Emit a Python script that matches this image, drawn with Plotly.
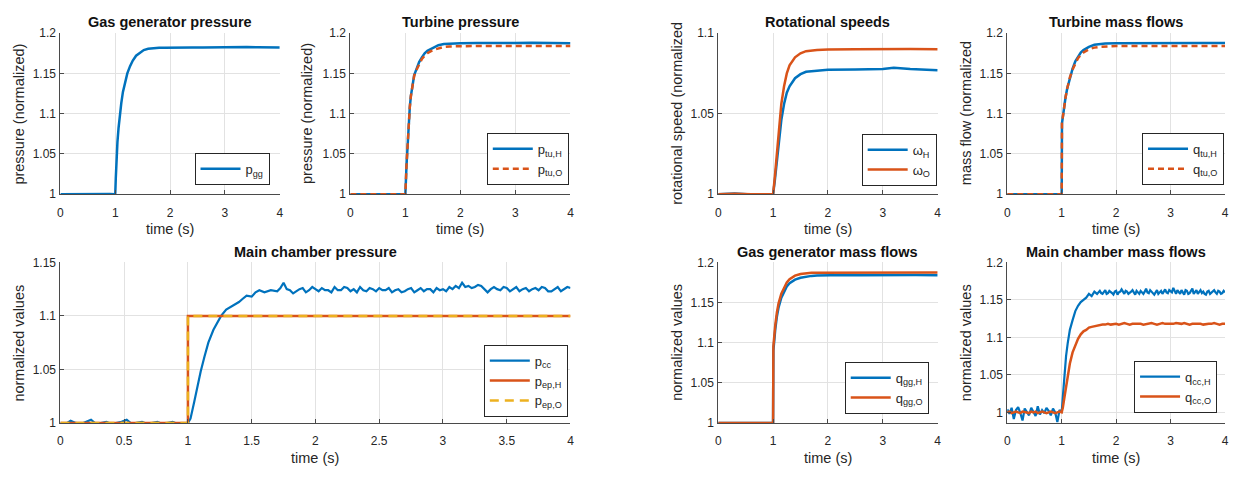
import plotly.graph_objects as go

# ---------------- data ----------------
# Gas generator pressure
t_pgg = [0, 0.3, 0.6, 0.9, 0.99, 1.0, 1.01, 1.02, 1.04, 1.06, 1.08, 1.11, 1.14, 1.18, 1.22, 1.27,
         1.32, 1.38, 1.45, 1.52, 1.6, 1.7, 1.8, 1.9, 2.0, 2.2, 2.4, 2.6, 2.8, 3.0, 3.2, 3.3, 3.4,
         3.6, 3.8, 4.0]
p_gg = [1.0, 1.0003, 0.9999, 1.0001, 0.9998, 1.0, 1.02, 1.04, 1.065, 1.082, 1.098, 1.113, 1.127,
        1.140, 1.150, 1.159, 1.166, 1.172, 1.176, 1.179, 1.1805, 1.1815, 1.1818, 1.182, 1.1822,
        1.1823, 1.1821, 1.1822, 1.1824, 1.1826, 1.1829, 1.1832, 1.1828, 1.1824, 1.1822, 1.1821]

# Turbine pressure
t_ptu = [0, 0.3, 0.6, 0.9, 0.99, 1.0, 1.02, 1.04, 1.06, 1.08, 1.1, 1.13, 1.16, 1.2, 1.25, 1.3,
         1.35, 1.4, 1.5, 1.6, 1.7, 1.8, 2.0, 2.3, 2.6, 3.0, 3.3, 3.6, 4.0]
p_tuH = [1.0, 1.0002, 0.9999, 1.0001, 1.0, 1.0, 1.035, 1.065, 1.09, 1.108, 1.122, 1.137, 1.148,
         1.155, 1.164, 1.170, 1.175, 1.178, 1.182, 1.185, 1.1866, 1.1871, 1.1874, 1.1876, 1.1875,
         1.1878, 1.1882, 1.1879, 1.1874]
p_tuO = [1.0, 1.0, 1.0, 1.0, 1.0, 1.0, 1.035, 1.065, 1.09, 1.108, 1.122, 1.137, 1.147, 1.154,
         1.162, 1.168, 1.172, 1.175, 1.179, 1.181, 1.1828, 1.1835, 1.184, 1.184, 1.184, 1.184,
         1.1842, 1.184, 1.184]

# Rotational speeds
t_om = [0, 0.3, 0.6, 0.9, 0.99, 1.0, 1.03, 1.06, 1.1, 1.15, 1.2, 1.25, 1.3, 1.4, 1.5, 1.6, 1.8,
        2.0, 2.5, 3.0, 3.2, 3.5, 4.0]
om_H = [1.0, 1.0004, 0.9998, 1.0002, 1.0, 1.0, 1.008, 1.018, 1.032, 1.046, 1.056, 1.063, 1.067,
        1.072, 1.0745, 1.076, 1.0767, 1.0772, 1.0775, 1.0778, 1.0785, 1.0777, 1.077]
om_O = [1.0, 1.0003, 0.9999, 1.0002, 1.0, 1.0, 1.01, 1.022, 1.04, 1.056, 1.067, 1.075, 1.08,
        1.085, 1.0875, 1.0888, 1.0895, 1.0898, 1.09, 1.0902, 1.0905, 1.0902, 1.09]

# Turbine mass flows
t_qtu = [0, 0.3, 0.6, 0.9, 0.999, 1.0, 1.005, 1.02, 1.04, 1.07, 1.1, 1.15, 1.2, 1.25, 1.3, 1.35,
         1.4, 1.5, 1.6, 1.7, 1.8, 2.0, 2.3, 2.6, 3.0, 3.3, 3.6, 4.0]
q_tuH = [1.0, 1.0002, 0.9999, 1.0001, 1.0, 1.0, 1.088, 1.097, 1.107, 1.12, 1.131, 1.145, 1.156,
         1.165, 1.171, 1.176, 1.179, 1.183, 1.1855, 1.1866, 1.187, 1.1874, 1.1876, 1.1877,
         1.1879, 1.1882, 1.1879, 1.1876]
q_tuO = [1.0, 1.0, 1.0, 1.0, 1.0, 1.0, 1.088, 1.097, 1.107, 1.12, 1.131, 1.145, 1.155, 1.163,
         1.169, 1.173, 1.176, 1.18, 1.182, 1.183, 1.1836, 1.184, 1.184, 1.184, 1.184, 1.1842,
         1.184, 1.184]

# Main chamber pressure
t_pcc = [0.00, 0.04, 0.08, 0.12, 0.16, 0.20, 0.24, 0.28, 0.32, 0.36, 0.40, 0.44, 0.48, 0.52,
         0.56, 0.60, 0.64, 0.68, 0.72, 0.76, 0.80, 0.84, 0.88, 0.92, 0.96,
         1.0, 1.02, 1.05, 1.08, 1.1, 1.13, 1.16, 1.2, 1.23, 1.26, 1.3, 1.33, 1.36, 1.4, 1.43,
         1.46, 1.5, 1.53, 1.56, 1.6, 1.65,
         1.700, 1.725, 1.750, 1.775, 1.800, 1.825, 1.850, 1.875, 1.900, 1.925,
         1.950, 1.975, 2.000, 2.025, 2.050, 2.075, 2.100, 2.125, 2.150, 2.175,
         2.200, 2.225, 2.250, 2.275, 2.300, 2.325, 2.350, 2.375, 2.400, 2.425,
         2.450, 2.475, 2.500, 2.525, 2.550, 2.575, 2.600, 2.625, 2.650, 2.675,
         2.700, 2.725, 2.750, 2.775, 2.800, 2.825, 2.850, 2.875, 2.900, 2.925,
         2.950, 2.975, 3.000, 3.025, 3.050, 3.075, 3.100, 3.125, 3.150, 3.175,
         3.200, 3.225, 3.250, 3.275, 3.300, 3.325, 3.350, 3.375, 3.400, 3.425,
         3.450, 3.475, 3.500, 3.525, 3.550, 3.575, 3.600, 3.625, 3.650, 3.675,
         3.700, 3.725, 3.750, 3.775, 3.800, 3.825, 3.850, 3.875, 3.900, 3.925,
         3.950, 3.975, 4.000]
p_cc = [1.000, 0.999, 1.002, 1.000, 0.999, 1.001, 1.003, 0.999, 1.000, 1.001, 0.999, 1.000,
        1.001, 1.003, 0.999, 1.000, 1.001, 0.999, 1.000, 1.001, 0.999, 1.000, 1.001, 0.999, 0.999,
        1.000, 1.004, 1.020, 1.038, 1.048, 1.062, 1.075, 1.087, 1.094, 1.100, 1.106, 1.108,
        1.110, 1.113, 1.116, 1.119, 1.118, 1.122, 1.124, 1.122, 1.124,
        1.123, 1.126, 1.131, 1.125, 1.124, 1.121, 1.123, 1.125, 1.126, 1.122,
        1.124, 1.127, 1.125, 1.123, 1.126, 1.124, 1.124, 1.122, 1.127, 1.124,
        1.124, 1.127, 1.126, 1.123, 1.125, 1.122, 1.127, 1.124, 1.123, 1.126,
        1.125, 1.123, 1.126, 1.124, 1.124, 1.126, 1.122, 1.124, 1.125, 1.122,
        1.123, 1.125, 1.126, 1.122, 1.124, 1.126, 1.123, 1.125, 1.125, 1.122,
        1.126, 1.124, 1.125, 1.123, 1.127, 1.125, 1.128, 1.126, 1.131, 1.127,
        1.128, 1.126, 1.127, 1.129, 1.128, 1.125, 1.122, 1.125, 1.127, 1.125,
        1.124, 1.127, 1.126, 1.123, 1.125, 1.127, 1.123, 1.125, 1.126, 1.123,
        1.125, 1.126, 1.124, 1.127, 1.126, 1.123, 1.123, 1.125, 1.127, 1.123,
        1.125, 1.127, 1.126]
t_pep = [0, 1.0, 1.0, 4.0]
p_epH = [1.0, 1.0, 1.1, 1.1]
p_epO = [1.0, 1.0, 1.1, 1.1]

# Gas generator mass flows
t_qgg = [0, 0.3, 0.6, 0.9, 0.999, 1.0, 1.005, 1.02, 1.04, 1.07, 1.1, 1.15, 1.2, 1.25, 1.3, 1.4,
         1.5, 1.6, 1.7, 1.8, 2.0, 2.3, 2.6, 3.0, 3.3, 3.6, 4.0]
q_ggH = [1.0, 1.0, 1.0, 1.0, 1.0, 1.0, 1.09, 1.103, 1.117, 1.133, 1.144, 1.156, 1.164, 1.17,
         1.174, 1.1785, 1.1808, 1.1822, 1.1832, 1.1836, 1.184, 1.1842, 1.184, 1.1843, 1.1845,
         1.1843, 1.184]
q_ggO = [1.0, 1.0002, 0.9999, 1.0001, 1.0, 1.0, 1.095, 1.108, 1.122, 1.138, 1.149, 1.161, 1.169,
         1.175, 1.179, 1.1835, 1.1855, 1.1865, 1.187, 1.1872, 1.1873, 1.1875, 1.1874, 1.1877,
         1.188, 1.1878, 1.1875]

# Main chamber mass flows
t_qccH = [0.00, 0.04, 0.08, 0.12, 0.16, 0.20, 0.24, 0.28, 0.32, 0.36, 0.40, 0.44, 0.48, 0.52,
          0.56, 0.60, 0.64, 0.68, 0.72, 0.76, 0.80, 0.84, 0.88, 0.92, 0.96,
          1.0, 1.02, 1.05, 1.08, 1.11, 1.15, 1.2, 1.25, 1.3, 1.35, 1.4, 1.45, 1.5, 1.55, 1.6,
          1.65,
          1.700, 1.725, 1.750, 1.775, 1.800, 1.825, 1.850, 1.875, 1.900, 1.925,
          1.950, 1.975, 2.000, 2.025, 2.050, 2.075, 2.100, 2.125, 2.150, 2.175,
          2.200, 2.225, 2.250, 2.275, 2.300, 2.325, 2.350, 2.375, 2.400, 2.425,
          2.450, 2.475, 2.500, 2.525, 2.550, 2.575, 2.600, 2.625, 2.650, 2.675,
          2.700, 2.725, 2.750, 2.775, 2.800, 2.825, 2.850, 2.875, 2.900, 2.925,
          2.950, 2.975, 3.000, 3.025, 3.050, 3.075, 3.100, 3.125, 3.150, 3.175,
          3.200, 3.225, 3.250, 3.275, 3.300, 3.325, 3.350, 3.375, 3.400, 3.425,
          3.450, 3.475, 3.500, 3.525, 3.550, 3.575, 3.600, 3.625, 3.650, 3.675,
          3.700, 3.725, 3.750, 3.775, 3.800, 3.825, 3.850, 3.875, 3.900, 3.925,
          3.950, 3.975, 4.000]
q_ccH = [1.004, 0.998, 1.006, 0.991, 1.003, 1.007, 0.999, 0.989, 1.005, 1.001, 0.996, 1.006,
         1.000, 0.995, 1.008, 0.997, 1.003, 0.999, 1.006, 1.002, 0.996, 1.005, 1.000, 0.987, 1.003,
         1.000, 1.020, 1.049, 1.075, 1.092, 1.110, 1.123, 1.135, 1.142, 1.147, 1.150, 1.153,
         1.158, 1.155, 1.161, 1.158,
         1.162, 1.159, 1.158, 1.161, 1.163, 1.158, 1.159, 1.162, 1.161, 1.159,
         1.157, 1.161, 1.162, 1.157, 1.160, 1.161, 1.164, 1.160, 1.158, 1.162,
         1.161, 1.158, 1.159, 1.161, 1.163, 1.160, 1.157, 1.162, 1.160, 1.158,
         1.162, 1.160, 1.158, 1.161, 1.165, 1.160, 1.159, 1.163, 1.161, 1.158,
         1.157, 1.160, 1.163, 1.158, 1.160, 1.162, 1.158, 1.161, 1.164, 1.160,
         1.159, 1.163, 1.162, 1.160, 1.166, 1.161, 1.158, 1.163, 1.161, 1.158,
         1.163, 1.160, 1.157, 1.163, 1.162, 1.158, 1.159, 1.162, 1.165, 1.158,
         1.160, 1.163, 1.158, 1.161, 1.163, 1.159, 1.161, 1.158, 1.157, 1.161,
         1.162, 1.158, 1.160, 1.162, 1.163, 1.160, 1.158, 1.162, 1.161, 1.158,
         1.159, 1.162, 1.160]
t_qccO = [0.00, 0.04, 0.08, 0.12, 0.16, 0.20, 0.24, 0.28, 0.32, 0.36, 0.40, 0.44, 0.48, 0.52,
          0.56, 0.60, 0.64, 0.68, 0.72, 0.76, 0.80, 0.84, 0.88, 0.92, 0.96,
          1.0, 1.02, 1.05, 1.08, 1.11, 1.15, 1.2, 1.25, 1.3, 1.35, 1.4, 1.45, 1.5, 1.55, 1.6,
          1.65,
          1.70, 1.75, 1.80, 1.85, 1.90, 1.95, 2.00, 2.05, 2.10, 2.15,
          2.20, 2.25, 2.30, 2.35, 2.40, 2.45, 2.50, 2.55, 2.60, 2.65,
          2.70, 2.75, 2.80, 2.85, 2.90, 2.95, 3.00, 3.05, 3.10, 3.15,
          3.20, 3.25, 3.30, 3.35, 3.40, 3.45, 3.50, 3.55, 3.60, 3.65,
          3.70, 3.75, 3.80, 3.85, 3.90, 3.95, 4.00]
q_ccO = [1.000, 1.001, 0.999, 1.000, 1.001, 1.000, 0.999, 1.001, 1.000, 1.000, 0.999, 1.001,
         1.000, 1.001, 0.999, 1.000, 1.001, 1.000, 0.999, 1.000, 1.001, 1.000, 0.999, 1.000, 1.001,
         1.000, 1.006, 1.020, 1.035, 1.049, 1.065, 1.080, 1.090, 1.098, 1.104, 1.108, 1.110,
         1.113, 1.114, 1.115, 1.116,
         1.116, 1.117, 1.117, 1.118, 1.117, 1.118, 1.118, 1.117, 1.118, 1.119,
         1.118, 1.117, 1.118, 1.118, 1.119, 1.118, 1.117, 1.118, 1.118, 1.119,
         1.118, 1.117, 1.118, 1.119, 1.118, 1.118, 1.117, 1.118, 1.119, 1.118,
         1.118, 1.119, 1.118, 1.117, 1.118, 1.118, 1.119, 1.118, 1.117, 1.118,
         1.118, 1.118, 1.119, 1.118, 1.117, 1.118, 1.118]

# tick labels
x_ticks = [0, 1, 2, 3, 4]
x_ticktext = ["0", "1", "2", "3", "4"]
x_ticks_wide = [0, 0.5, 1, 1.5, 2, 2.5, 3, 3.5, 4]
x_ticktext_wide = ["0", "0.5", "1", "1.5", "2", "2.5", "3", "3.5", "4"]
y_ticks_12 = [1, 1.05, 1.1, 1.15, 1.2]
y_ticktext_12 = ["1", "1.05", "1.1", "1.15", "1.2"]
y_ticks_11 = [1, 1.05, 1.1]
y_ticktext_11 = ["1", "1.05", "1.1"]
y_ticks_115 = [1, 1.05, 1.1, 1.15]
y_ticktext_115 = ["1", "1.05", "1.1", "1.15"]

titles = ["Gas generator pressure", "Turbine pressure", "Rotational speeds",
          "Turbine mass flows", "Main chamber pressure", "Gas generator mass flows",
          "Main chamber mass flows"]
ylabels = ["pressure (normalized)", "pressure (normalized)", "rotational speed (normalized",
           "mass flow (normalized", "normalized values", "normalized values", "normalized values"]

# ---------------- style ----------------
# The page body keeps its default 8px margin on every side, so the figure is
# made 16px smaller than the window and every position is given in window pixels.
OFF = 8
W, H = 1240 - 2 * OFF, 485 - 2 * OFF
BLUE = "#0072BD"
ORANGE = "#D95319"
YELLOW = "#EDB120"
AX = "#4a4a4a"
TXT = "#262626"
FONT = "Liberation Sans, Arial, sans-serif"


def fx(px):
    return (px - OFF) / W


def fy(py):
    return 1 - (py - OFF) / H


# panel boxes in window pixels: (x0, x1, ytop, ybottom)
boxes = [
    (57.7, 278.3, 26.7, 192.7),
    (349.3, 570.7, 26.7, 192.7),
    (719.3, 940.0, 26.7, 192.7),
    (1010.0, 1229.0, 26.7, 192.7),
    (57.7, 570.7, 263.0, 428.5),
    (719.3, 940.0, 263.0, 428.5),
    (1010.0, 1229.0, 263.0, 428.5),
]
yranges = [[1, 1.2], [1, 1.2], [1, 1.1], [1, 1.2], [1, 1.15], [1, 1.2], [0.9858, 1.2]]
yticks = [(y_ticks_12, y_ticktext_12), (y_ticks_12, y_ticktext_12), (y_ticks_11, y_ticktext_11),
          (y_ticks_12, y_ticktext_12), (y_ticks_115, y_ticktext_115),
          (y_ticks_12, y_ticktext_12), (y_ticks_12, y_ticktext_12)]
xticks = [(x_ticks, x_ticktext)] * 4 + [(x_ticks_wide, x_ticktext_wide)] + [(x_ticks, x_ticktext)] * 2
ylabel_x = [16, 305, 677, 968, 16, 677, 968]
legend_pos = [(268, 183), (569, 183), (939, 184), (1228, 183), (568, 422), (931, 419), (1221, 418)]

fig = go.Figure()


def add(i, x, y, name, color, dash="solid", width=2.5):
    fig.add_trace(go.Scatter(
        x=x, y=y, mode="lines", name=name,
        line=dict(color=color, width=width, dash=dash),
        xaxis="x" if i == 1 else f"x{i}", yaxis="y" if i == 1 else f"y{i}",
        legend="legend" if i == 1 else f"legend{i}", showlegend=True,
    ))


add(1, t_pgg, p_gg, "p<sub>gg</sub>", BLUE)
add(2, t_ptu, p_tuH, "p<sub>tu,H</sub>", BLUE)
add(2, t_ptu, p_tuO, "p<sub>tu,O</sub>", ORANGE, dash="6px,4px")
add(3, t_om, om_H, "\u03c9<sub>H</sub>", BLUE)
add(3, t_om, om_O, "\u03c9<sub>O</sub>", ORANGE)
add(4, t_qtu, q_tuH, "q<sub>tu,H</sub>", BLUE)
add(4, t_qtu, q_tuO, "q<sub>tu,O</sub>", ORANGE, dash="6px,4px")
add(5, t_pcc, p_cc, "p<sub>cc</sub>", BLUE, width=2.2)
add(5, t_pep, p_epH, "p<sub>ep,H</sub>", ORANGE)
add(5, t_pep, p_epO, "p<sub>ep,O</sub>", YELLOW, dash="9px,6px")
add(6, t_qgg, q_ggH, "q<sub>gg,H</sub>", BLUE)
add(6, t_qgg, q_ggO, "q<sub>gg,O</sub>", ORANGE)
add(7, t_qccH, q_ccH, "q<sub>cc,H</sub>", BLUE, width=2.2)
add(7, t_qccO, q_ccO, "q<sub>cc,O</sub>", ORANGE)

layout = dict(
    width=W, height=H, margin=dict(l=0, r=0, t=0, b=0),
    paper_bgcolor="white", plot_bgcolor="white",
    font=dict(family=FONT, color=TXT), showlegend=True,
)
annotations = []
for k, (x0, x1, yt, yb) in enumerate(boxes):
    i = k + 1
    xs = "" if i == 1 else str(i)
    common = dict(
        showgrid=True, gridcolor="#e2e2e2", gridwidth=1, zeroline=False,
        showline=True, linecolor=AX, linewidth=1, mirror=False,
        ticks="inside", ticklen=4, tickcolor=AX, tickfont=dict(size=12, color=TXT),
        ticklabeloverflow="allow",
    )
    layout[f"xaxis{xs}"] = dict(
        domain=[fx(x0), fx(x1)], range=[0, 4], anchor=f"y{xs}",
        tickvals=xticks[k][0], ticktext=xticks[k][1], ticklabelstandoff=7, **common)
    layout[f"yaxis{xs}"] = dict(
        domain=[fy(yb), fy(yt)], range=yranges[k], anchor=f"x{xs}",
        tickvals=yticks[k][0], ticktext=yticks[k][1], ticklabelstandoff=1, **common)
    lx, ly = legend_pos[k]
    layout["legend" if i == 1 else f"legend{i}"] = dict(
        x=fx(lx), y=fy(ly), xanchor="right", yanchor="bottom",
        bgcolor="white", bordercolor="#262626", borderwidth=1,
        font=dict(size=13, color=TXT, family=FONT), itemwidth=40, visible=True,
    )
    cx = (x0 + x1) / 2
    annotations.append(dict(
        text=f"<b>{titles[k]}</b>", x=fx(cx), y=fy(yt - 11), xref="paper", yref="paper",
        xanchor="center", yanchor="middle", showarrow=False,
        font=dict(size=14.5, color="#111111", family=FONT)))
    annotations.append(dict(
        text="time (s)", x=fx(cx), y=fy(yb + 36), xref="paper", yref="paper",
        xanchor="center", yanchor="middle", showarrow=False,
        font=dict(size=14.5, color=TXT, family=FONT)))
    annotations.append(dict(
        text=ylabels[k], x=fx(ylabel_x[k]), y=fy((yt + yb) / 2), xref="paper", yref="paper",
        xanchor="center", yanchor="middle", textangle=-90, showarrow=False,
        font=dict(size=14.5, color=TXT, family=FONT)))

layout["annotations"] = annotations
fig.update_layout(**layout)
fig.write_html("out.html")
